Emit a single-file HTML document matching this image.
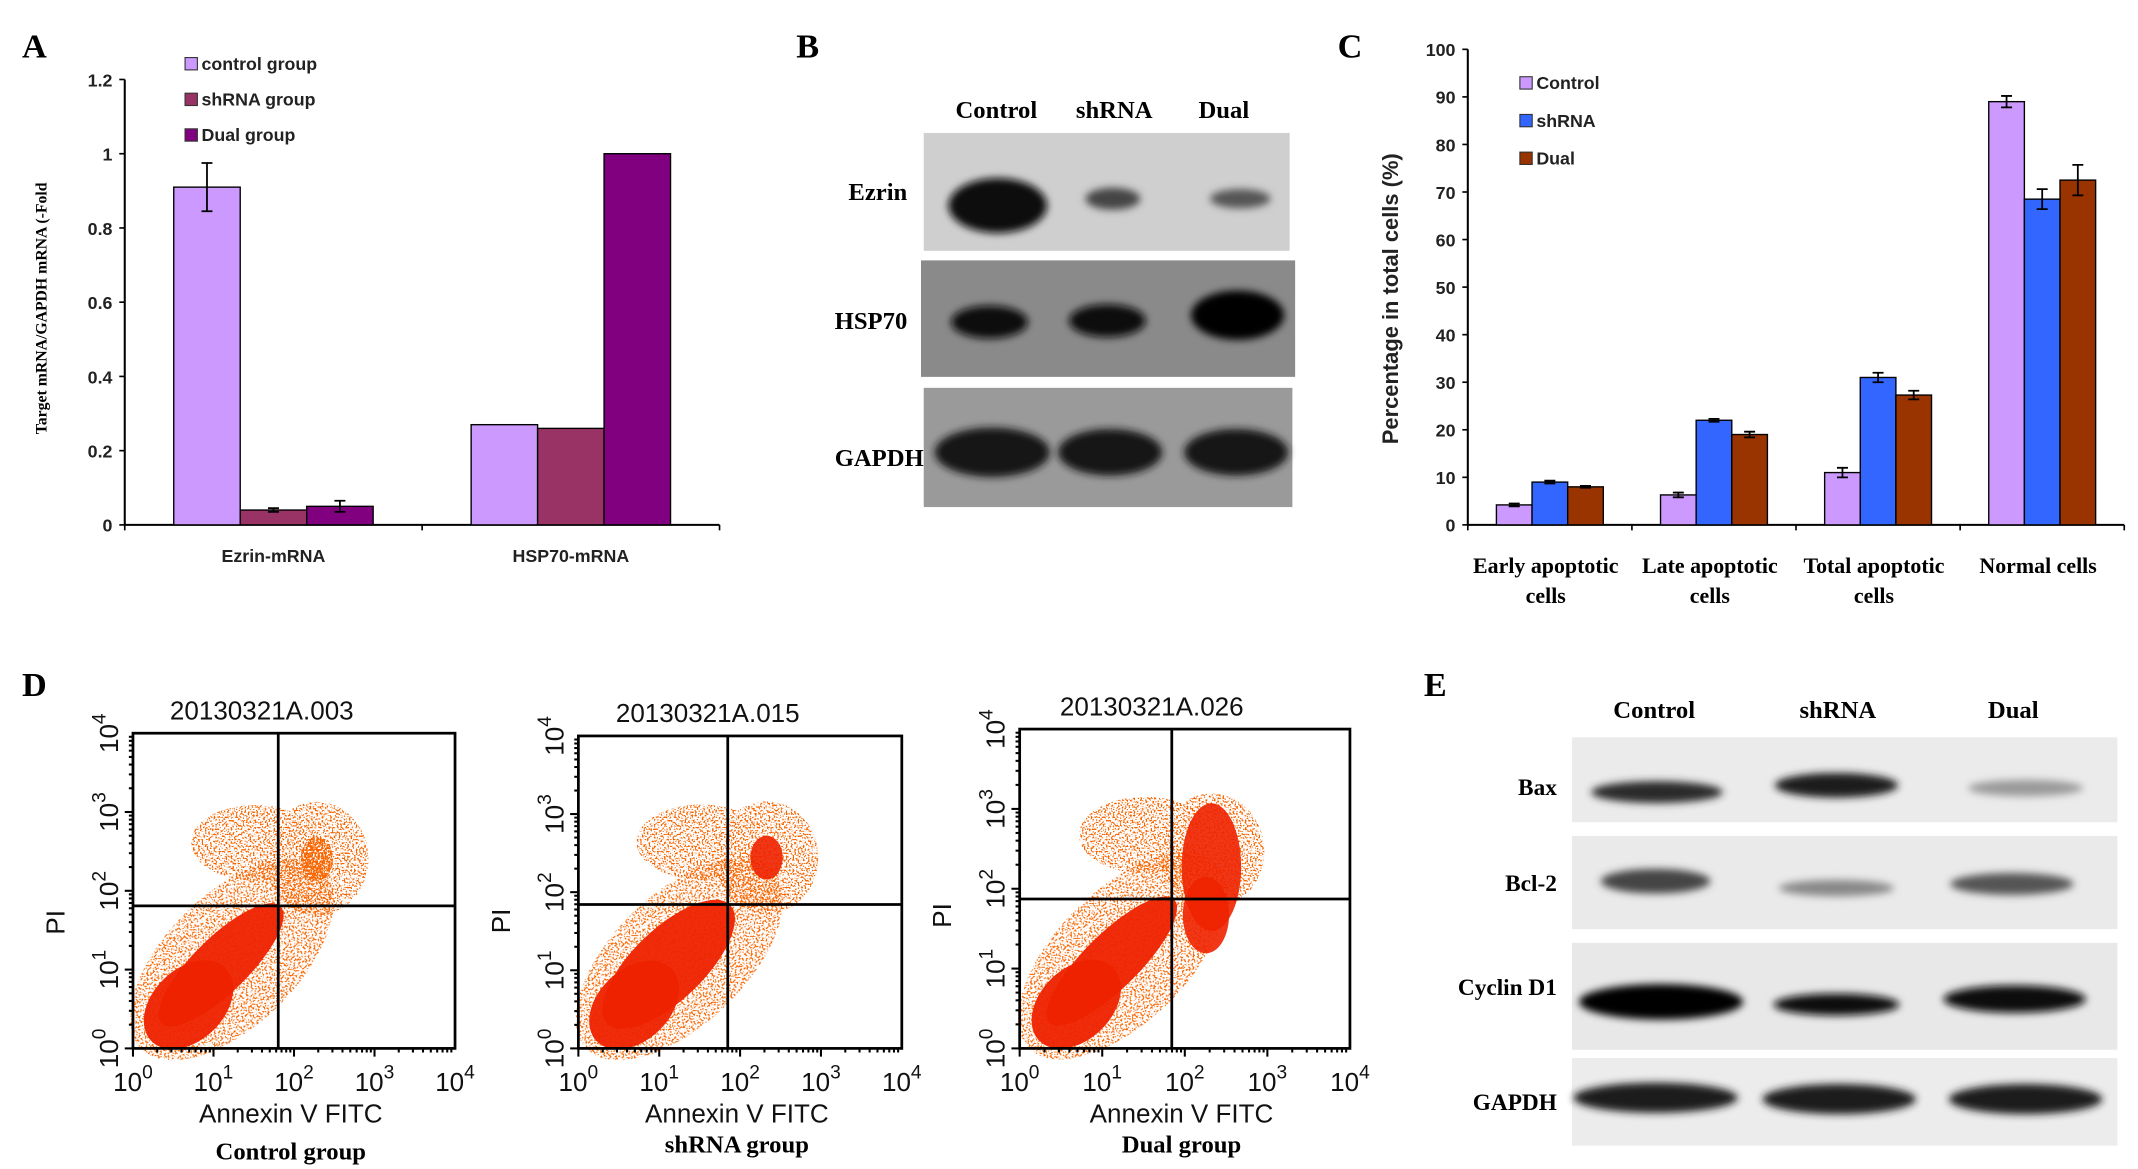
<!DOCTYPE html>
<html><head><meta charset="utf-8">
<style>
html,body{margin:0;padding:0;background:#fff;width:2138px;height:1169px;overflow:hidden}
svg{display:block}
.serif{font-family:"Liberation Serif",serif;font-weight:bold}
.sans{font-family:"Liberation Sans",sans-serif}
</style></head>
<body>
<svg id="fig" width="2138" height="1169" viewBox="0 0 1560 853" xmlns="http://www.w3.org/2000/svg">
<defs>
<filter id="blur3" x="-30%" y="-100%" width="160%" height="300%"><feGaussianBlur stdDeviation="3"/></filter>
<filter id="speck" x="0" y="0" width="100%" height="100%">
<feTurbulence type="fractalNoise" baseFrequency="0.8" numOctaves="1" seed="3" result="n"/>
<feColorMatrix in="n" type="matrix" values="0 0 0 0 0.93  0 0 0 0 0.13  0 0 0 0 0.0  0 0 0 12 -6.3" result="m"/>
<feComposite in="m" in2="SourceGraphic" operator="in"/>
</filter>
<filter id="speck2" x="0" y="0" width="100%" height="100%">
<feTurbulence type="fractalNoise" baseFrequency="0.8" numOctaves="1" seed="7" result="n"/>
<feColorMatrix in="n" type="matrix" values="0 0 0 0 0.93  0 0 0 0 0.13  0 0 0 0 0.0  0 0 0 12 -5.2" result="m"/>
<feComposite in="m" in2="SourceGraphic" operator="in"/>
</filter>
</defs>

<text class="serif" x="16" y="42" font-size="25">A</text>
<text class="serif" x="581" y="42" font-size="25">B</text>
<text class="serif" x="976" y="42" font-size="25">C</text>
<text class="serif" x="16" y="508" font-size="25">D</text>
<text class="serif" x="1039" y="508" font-size="25">E</text>

<g id="chartA"></g>
<g id="chartC"></g>

<g id="blotB">
<text class="serif" x="727" y="86" font-size="18" text-anchor="middle">Control</text>
<text class="serif" x="813" y="86" font-size="18" text-anchor="middle">shRNA</text>
<text class="serif" x="893" y="86" font-size="18" text-anchor="middle">Dual</text>
<g>
<rect x="674" y="97" width="267" height="86" fill="#cfcfcf"/>
<ellipse cx="728" cy="150" rx="36" ry="20" fill="#0a0a0a" filter="url(#blur3)"/>
<ellipse cx="812" cy="145" rx="20" ry="8" fill="#444" filter="url(#blur3)"/>
<ellipse cx="905" cy="145" rx="22" ry="7" fill="#555" filter="url(#blur3)"/>
</g>
<text class="serif" x="662" y="146" font-size="18" text-anchor="end">Ezrin</text>
<g>
<rect x="672" y="190" width="273" height="85" fill="#8a8a8a"/>
<ellipse cx="722" cy="235" rx="28" ry="12" fill="#0a0a0a" filter="url(#blur3)"/>
<ellipse cx="808" cy="234" rx="28" ry="12" fill="#0a0a0a" filter="url(#blur3)"/>
<ellipse cx="903" cy="230" rx="34" ry="18" fill="#050505" filter="url(#blur3)"/>
</g>
<text class="serif" x="662" y="240" font-size="18" text-anchor="end">HSP70</text>
<g>
<rect x="674" y="283" width="269" height="87" fill="#9a9a9a"/>
<ellipse cx="724" cy="330" rx="42" ry="18" fill="#151515" filter="url(#blur3)"/>
<ellipse cx="810" cy="330" rx="38" ry="17" fill="#151515" filter="url(#blur3)"/>
<ellipse cx="902" cy="330" rx="38" ry="17" fill="#151515" filter="url(#blur3)"/>
</g>
<text class="serif" x="674" y="340" font-size="18" text-anchor="end">GAPDH</text>
</g>

<g id="chartD"></g>

<g id="blotE">
<text class="serif" x="1207" y="524" font-size="18" text-anchor="middle">Control</text>
<text class="serif" x="1341" y="524" font-size="18" text-anchor="middle">shRNA</text>
<text class="serif" x="1469" y="524" font-size="18" text-anchor="middle">Dual</text>
<g>
<rect x="1147" y="538" width="398" height="62" fill="#ebebeb"/>
<ellipse cx="1209" cy="578" rx="48" ry="8" fill="#2a2a2a" filter="url(#blur3)"/>
<ellipse cx="1340" cy="573" rx="45" ry="9" fill="#1a1a1a" filter="url(#blur3)"/>
<ellipse cx="1478" cy="575" rx="42" ry="6" fill="#9a9a9a" filter="url(#blur3)"/>
</g>
<text class="serif" x="1136" y="580" font-size="17" text-anchor="end">Bax</text>
<g>
<rect x="1147" y="610" width="398" height="68" fill="#eaeaea"/>
<ellipse cx="1208" cy="643" rx="40" ry="9" fill="#444" filter="url(#blur3)"/>
<ellipse cx="1340" cy="648" rx="42" ry="6" fill="#888" filter="url(#blur3)"/>
<ellipse cx="1468" cy="645" rx="45" ry="8" fill="#555" filter="url(#blur3)"/>
</g>
<text class="serif" x="1136" y="650" font-size="17" text-anchor="end">Bcl-2</text>
<g>
<rect x="1147" y="688" width="398" height="78" fill="#e8e8e8"/>
<ellipse cx="1212" cy="731" rx="60" ry="13" fill="#000" filter="url(#blur3)"/>
<ellipse cx="1340" cy="733" rx="46" ry="8" fill="#111" filter="url(#blur3)"/>
<ellipse cx="1470" cy="729" rx="52" ry="10" fill="#0a0a0a" filter="url(#blur3)"/>
</g>
<text class="serif" x="1136" y="726" font-size="17" text-anchor="end">Cyclin D1</text>
<g>
<rect x="1147" y="772" width="398" height="64" fill="#ececec"/>
<ellipse cx="1208" cy="801" rx="60" ry="11" fill="#1a1a1a" filter="url(#blur3)"/>
<ellipse cx="1342" cy="802" rx="56" ry="11" fill="#1a1a1a" filter="url(#blur3)"/>
<ellipse cx="1478" cy="802" rx="56" ry="11" fill="#1a1a1a" filter="url(#blur3)"/>
</g>
<text class="serif" x="1136" y="810" font-size="17" text-anchor="end">GAPDH</text>
</g>
</svg>

<script>
const NS='http://www.w3.org/2000/svg';
function mk(parent,tag,attrs,txt){const e=document.createElementNS(NS,tag);for(const k in attrs)e.setAttribute(k,attrs[k]);if(txt!==undefined)e.textContent=txt;parent.appendChild(e);return e;}

/* ===== Chart A data ===== */
const catsA=['Ezrin-mRNA','HSP70-mRNA'];
const seriesNamesA=['control group','shRNA group','Dual group'];
const controlA=[0.91,0.27];
const shrnaA=[0.04,0.26];
const dualA=[0.05,1.0];
const controlErrA=[0.065,0];
const shrnaErrA=[0.005,0];
const dualErrA=[0.015,0];
const ticksA=[0,0.2,0.4,0.6,0.8,1,1.2];
const tickLabelsA=['0','0.2','0.4','0.6','0.8','1','1.2'];

/* ===== Chart C data ===== */
const catsC=[['Early apoptotic','cells'],['Late apoptotic','cells'],['Total apoptotic','cells'],['Normal cells','']];
const seriesNamesC=['Control','shRNA','Dual'];
const controlC=[4.2,6.3,11,89];
const shrnaC=[9,22,31,68.5];
const dualC=[8,19,27.3,72.5];
const controlErrC=[0.3,0.5,1,1.2];
const shrnaErrC=[0.3,0.3,1,2.1];
const dualErrC=[0.2,0.6,0.9,3.2];
const ticksC=[0,10,20,30,40,50,60,70,80,90,100];

function barChart(g,o){
  const yS=v=>o.y0-(v-o.vmin)/(o.vmax-o.vmin)*(o.y0-o.y1);
  const gw=(o.x1-o.x0)/o.cats.length;
  const ya=mk(g,'line',{x1:o.x0,y1:o.y1,x2:o.x0,y2:o.y0,stroke:'#000','stroke-width':1.5});
  
  
  const xa=mk(g,'line',{x1:o.x0,y1:o.y0,x2:o.x1,y2:o.y0,stroke:'#000','stroke-width':1.5});
  
  
  o.ticks.forEach((t,i)=>{
    const y=yS(t);
    mk(g,'line',{x1:o.x0-4,y1:y,x2:o.x0,y2:y,stroke:'#000','stroke-width':1.2});
    const tl=mk(g,'text',{x:o.x0-9,y:y+5,'font-size':o.tfs,'text-anchor':'end',class:'sans','font-weight':'bold',fill:'#222'},o.tickLabels[i]);
    
    
  });
  for(let i=0;i<=o.cats.length;i++){const x=o.x0+i*gw;mk(g,'line',{x1:x,y1:o.y0,x2:x,y2:o.y0+4,stroke:'#000','stroke-width':1.2});}
  o.cats.forEach((c,ci)=>{
    const cx=o.x0+(ci+0.5)*gw;
    o.series.forEach((s,si)=>{
      const bx=cx+(si-1.5)*o.bw;
      const v=s[ci];
      const r=mk(g,'rect',{x:bx,y:yS(v),width:o.bw,height:o.y0-yS(v),fill:o.colors[si],stroke:'#000','stroke-width':1});
      
      
      const e=o.errs[si][ci];
      if(e>0){
        const mx=bx+o.bw/2;
        const eb=mk(g,'path',{d:`M${mx},${yS(v+e)}V${yS(v-e)}M${mx-4},${yS(v+e)}H${mx+4}M${mx-4},${yS(v-e)}H${mx+4}`,stroke:'#000','stroke-width':1.3,fill:'none'});
        
        
      }
    });
    o.catLabel(g,c,cx);
  });
  o.names.forEach((n,i)=>{
    const ly=o.legY+i*o.legDy;
    const sq=mk(g,'rect',{x:o.legX,y:ly-9,width:9,height:9,fill:o.colors[i],stroke:'#333','stroke-width':0.8});
    
    
    const lt=mk(g,'text',{x:o.legX+12,y:ly,'font-size':o.lfs,class:'sans','font-weight':'bold',fill:'#222'},n);
    
    
  });
}

barChart(document.getElementById('chartA'),{
  id:'chart-a',x0:91,x1:525,y0:383,y1:58,vmin:0,vmax:1.2,cats:catsA,series:[controlA,shrnaA,dualA],
  errs:[controlErrA,shrnaErrA,dualErrA],ticks:ticksA,tickLabels:tickLabelsA,bw:48.5,tfs:13,
  colors:['#cc99ff','#993366','#800080'],names:seriesNamesA,legX:135,legY:51,legDy:26,lfs:13,
  catLabel:(g,c,cx)=>{const t=mk(g,'text',{x:cx,y:410,'font-size':13,'text-anchor':'middle',class:'sans','font-weight':'bold',fill:'#222'},c);
    
    }
});
(function(){const g=document.getElementById('chartA');
 const t=mk(g,'text',{transform:'translate(34,225) rotate(-90)','font-size':11.5,'text-anchor':'middle',class:'serif'},'Target mRNA/GAPDH mRNA (-Fold');
 
 })();

barChart(document.getElementById('chartC'),{
  id:'chart-c',x0:1071,x1:1550,y0:383,y1:36,vmin:0,vmax:100,cats:catsC,series:[controlC,shrnaC,dualC],
  errs:[controlErrC,shrnaErrC,dualErrC],ticks:ticksC,tickLabels:ticksC.map(String),bw:26,tfs:13,
  colors:['#cc99ff','#3366ff','#993300'],names:seriesNamesC,legX:1109,legY:65,legDy:27.5,lfs:13,
  catLabel:(g,c,cx)=>{const t=mk(g,'text',{x:cx-3,y:418,'font-size':16,'text-anchor':'middle',class:'serif'});
    
    
    mk(t,'tspan',{x:cx-3,y:418},c[0]);mk(t,'tspan',{x:cx-3,y:440},c[1]);}
});
(function(){const g=document.getElementById('chartC');
 const t=mk(g,'text',{transform:'translate(1020,218) rotate(-90)','font-size':16,'text-anchor':'middle',class:'sans','font-weight':'bold',fill:'#222'},'Percentage in total cells (%)');
 
 })();

/* ===== Panel D flow plots ===== */
const flowTitles=['20130321A.003','20130321A.015','20130321A.026'];
const flowGroups=['Control group','shRNA group','Dual group'];
const flowBoxes=[[97,535,332,765,203,661],[422,537,658,765,531,660],[744,532,985,765,855,656]];
const gD=document.getElementById('chartD');
flowBoxes.forEach((b,k)=>{
  const [x0,y0,x1,y1,cx,cy]=b;const w=x1-x0,h=y1-y0;
  const g=mk(gD,'g',{});
  
  
  const cl=mk(g,'g',{fill:'#ee2200'});
  
  
  // diagonal main population
  const ax=x0+0.13*w, ay=y1-0.13*h;
  const mx=(ax+cx)/2-4, my=(ay+cy)/2+6;
  const len=Math.hypot(cx-ax,cy-ay);
  const ang=Math.atan2(cy-ay,cx-ax)*180/Math.PI;
  // sparse halo
  mk(cl,'ellipse',{cx:mx+8,cy:my-4,rx:len/2+40,ry:48,transform:`rotate(${ang} ${mx+8} ${my-4})`,filter:'url(#speck)'});
  // upper-left sparse
  mk(cl,'ellipse',{cx:x0+0.38*w,cy:cy-0.2*h,rx:0.2*w,ry:0.12*h,filter:'url(#speck)'});
  // upper-right cluster
  const ux=cx+0.12*w, uy=cy-0.15*h;
  mk(cl,'ellipse',{cx:ux,cy:uy,rx:0.16*w,ry:0.18*h,filter:'url(#speck)'});
  mk(cl,'ellipse',{cx:ux,cy:uy+(k==2?0.05*h:0),rx:(k==2?0.09:0.05)*w,ry:(k==2?0.2:0.07)*h,filter:k==0?'url(#speck2)':'',opacity:k==0?1:0.9});
  if(k==2) mk(cl,'ellipse',{cx:ux-4,cy:cy+0.05*h,rx:0.07*w,ry:0.12*h,opacity:0.9});
  // dense core
  mk(cl,'ellipse',{cx:mx,cy:my,rx:len/2+8,ry:(k==1?26:20),transform:`rotate(${ang} ${mx} ${my})`,opacity:0.95});
  mk(cl,'ellipse',{cx:ax+10,cy:ay-2,rx:38,ry:26,transform:`rotate(${ang} ${ax+10} ${ay-2})`,opacity:0.95});
  mk(g,'rect',{x:x0,y:y0,width:w,height:h,fill:'none',stroke:'#000','stroke-width':2});
  mk(g,'line',{x1:cx,y1:y0,x2:cx,y2:y1,stroke:'#000','stroke-width':2});
  mk(g,'line',{x1:x0,y1:cy,x2:x1,y2:cy,stroke:'#000','stroke-width':2});
  for(let d=0;d<4;d++)for(let m=1;m<10;m++){
    const f=(d+Math.log10(m))/4;
    const tx=x0+f*w, ty=y1-f*h, L=m==1?6:3;
    mk(g,'line',{x1:tx,y1:y1,x2:tx,y2:y1+L,stroke:'#000','stroke-width':1.5});
    mk(g,'line',{x1:x0,y1:ty,x2:x0-L,y2:ty,stroke:'#000','stroke-width':1.5});
  }
  for(let d=0;d<=4;d++){
    const tx=x0+d/4*w, ty=y1-d/4*h;
    const xl=mk(g,'text',{x:tx,y:y1+31,'font-size':19,'text-anchor':'middle',class:'sans',fill:'#111'});
    
    
    mk(xl,'tspan',{},'10');mk(xl,'tspan',{dy:-9,'font-size':14},String(d));
    const yl=mk(g,'text',{transform:`translate(${x0-11},${ty}) rotate(-90)`,'font-size':19,'text-anchor':'middle',class:'sans',fill:'#111'});
    
    
    mk(yl,'tspan',{},'10');mk(yl,'tspan',{dy:-9,'font-size':14},String(d));
  }
  const tt=mk(g,'text',{x:x0+0.4*w,y:y0-10,'font-size':19,'text-anchor':'middle',class:'sans',fill:'#111'},flowTitles[k]);
  
  
  const pi=mk(g,'text',{transform:`translate(${x0-50},${cy+12}) rotate(-90)`,'font-size':19,'text-anchor':'middle',class:'sans',fill:'#111'},'PI');
  
  
  const axt=mk(g,'text',{x:x0+0.49*w,y:y1+54,'font-size':19,'text-anchor':'middle',class:'sans',fill:'#111'},'Annexin V FITC');
  
  
  const gl=mk(g,'text',{x:x0+0.49*w,y:y1+(k==0?81:76),'font-size':18,'text-anchor':'middle',class:'serif'},flowGroups[k]);
  
  
});
</script>
</body></html>
